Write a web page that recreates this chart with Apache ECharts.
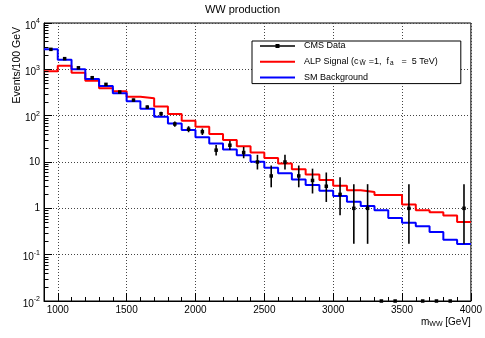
<!DOCTYPE html>
<html>
<head>
<meta charset="UTF-8">
<title>WW production</title>
<script src="https://cdn.jsdelivr.net/npm/echarts@6/dist/echarts.min.js"></script>
<style>
html, body { margin: 0; padding: 0; background: #fff; }
#chart { width: 485px; height: 338px; }
</style>
</head>
<body>
<div id="chart"></div>
<script>
// bin edges, 100 GeV wide
const binEdges = [900, 1000, 1100, 1200, 1300, 1400, 1500, 1600, 1700, 1800, 1900, 2000,
  2100, 2200, 2300, 2400, 2500, 2600, 2700, 2800, 2900, 3000, 3100, 3200, 3300, 3400,
  3500, 3600, 3700, 3800, 3900, 4000];

// events per bin
const cmsData = [2700, 1700, 1080, 660, 474, 324, 217, 153, 110, 66, 51, 45, 18, 23, 16, 10,
  5, 10, 5, 4, 3, 2, 1, 1, 0, 0, 1, 0, 0, 0, 1];
const alpSignal = [905, 1200, 845, 568, 389, 335, 256, 237, 158, 108, 78, 58, 40, 29.7, 22,
  16.1, 12.2, 9.3, 7.0, 5.4, 4.1, 3.06, 2.47, 2.24, 1.93, 1.93, 1.21, 0.91, 0.82, 0.70, 0.51];
const smBackground = [2700, 1610, 1010, 617, 435, 303, 204, 141, 95, 68, 49, 34, 25, 18.7,
  13.9, 10.1, 7.5, 5.7, 4.2, 3.2, 2.39, 1.84, 1.38, 1.12, 0.91, 0.62, 0.49, 0.41, 0.31, 0.21, 0.17];

const xTickLabels = [1000, 1500, 2000, 2500, 3000, 3500, 4000];
const yMin = 0.01;
const yMax = 10000;

const FONT = '"Liberation Sans", Arial, Helvetica, sans-serif';

// histogram outline: a point at each low edge plus the last high edge
function stepPoints(values) {
  const pts = values.map((v, i) => [binEdges[i], v]);
  pts.push([binEdges[values.length], values[values.length - 1]]);
  return pts;
}

// Poisson 68% interval (Gehrels approximation)
function poissonLow(n) {
  if (n <= 0) return 0;
  const a = 1 - 1 / (9 * n) - 1 / (3 * Math.sqrt(n));
  return n * a * a * a;
}
function poissonHigh(n) {
  return n + Math.sqrt(n + 0.75) + 1;
}

const dataPoints = cmsData.map((n, i) => [
  (binEdges[i] + binEdges[i + 1]) / 2,
  n > 0 ? n : yMin,
  poissonLow(n),
  poissonHigh(n),
  n
]);

// minor ticks of the log axis: 2..9 x 10^k
const minorY = [];
for (let e = -2; e < 4; e++) {
  for (let k = 2; k <= 9; k++) minorY.push([binEdges[0], k * Math.pow(10, e)]);
}

// legend icons; the hairline at x=0 keeps the icon box 4px tall so nothing gets stretched
const lineIcon = 'path://M0,1L35,1L35,3L0,3Z M0,0L0.01,0L0.01,4L0,4Z';
const dataIcon = 'path://M0,1.2L35,1.2L35,2.8L0,2.8Z M15.5,0L19.5,0L19.5,4L15.5,4Z';

const chart = echarts.init(document.getElementById('chart'), null, { renderer: 'canvas' });

const option = {
  animation: false,
  backgroundColor: '#fff',
  title: {
    text: 'WW production',
    left: 'center',
    top: 4,
    padding: 0,
    textStyle: { fontFamily: FONT, fontSize: 11, fontWeight: 'normal', color: '#000' }
  },
  graphic: [{
    type: 'text',
    x: 17,
    y: 27,
    rotation: Math.PI / 2,
    style: {
      text: 'Events/100 GeV',
      fontFamily: FONT,
      fontSize: 10.5,
      fill: '#000',
      align: 'right',
      verticalAlign: 'middle'
    }
  }],
  grid: {
    left: 44, right: 10, top: 23, bottom: 37,
    show: true, borderColor: '#000', borderWidth: 1, backgroundColor: 'transparent'
  },
  legend: {
    orient: 'vertical',
    left: 252,
    top: 41,
    padding: [0, 23, 1, 8],
    itemWidth: 35,
    itemHeight: 4,
    itemGap: 5.8,
    borderColor: '#000',
    borderWidth: 1,
    backgroundColor: '#fff',
    selectedMode: false,
    data: [
      { name: 'CMS Data', icon: dataIcon },
      { name: 'ALP Signal', icon: lineIcon },
      { name: 'SM Background', icon: lineIcon }
    ],
    formatter: function (name) {
      if (name === 'ALP Signal') {
        return '{t|ALP Signal (c}{s|W̃}{t|=1,  f}{s|a}{t|  =  5 TeV)}';
      }
      return name;
    },
    textStyle: {
      fontFamily: FONT, fontSize: 9, color: '#000', lineHeight: 10, padding: [0, 0, 0, 4],
      rich: {
        t: { fontFamily: FONT, fontSize: 9, color: '#000', lineHeight: 10 },
        s: {
          fontFamily: FONT, fontSize: 6.5, color: '#000', lineHeight: 4,
          verticalAlign: 'bottom', padding: [0, 3, 0, 1]
        }
      }
    }
  },
  xAxis: [{
    type: 'value',
    min: 900,
    max: 4000,
    interval: 100,
    name: '{m|m}{s|WW}{m| [GeV]}',
    nameLocation: 'end',
    nameGap: 0,
    nameTextStyle: {
      align: 'right', verticalAlign: 'top', padding: [15, 0, 0, 0],
      rich: {
        m: { fontFamily: FONT, fontSize: 10, color: '#000', lineHeight: 12 },
        s: { fontFamily: FONT, fontSize: 7, color: '#000', lineHeight: 6, verticalAlign: 'bottom' }
      }
    },
    axisLine: { show: true, onZero: false, lineStyle: { color: '#000', width: 1 } },
    axisTick: { show: true, inside: true, length: 4, lineStyle: { color: '#000' } },
    axisLabel: {
      show: true, customValues: xTickLabels, margin: 4,
      fontFamily: FONT, fontSize: 10, color: '#000',
      formatter: function (v) { return String(Math.round(v)); }
    },
    splitLine: { show: false }
  }, {
    type: 'value',
    min: 900,
    max: 4000,
    interval: 100,
    position: 'bottom',
    axisLine: { show: false },
    axisTick: { show: true, inside: true, length: 8, customValues: xTickLabels, lineStyle: { color: '#000' } },
    axisLabel: { show: false },
    splitLine: { show: true, lineStyle: { color: '#444', type: [1, 2], width: 1 } }
  }],
  yAxis: {
    type: 'log',
    logBase: 10,
    min: yMin,
    max: yMax,
    splitNumber: 6,
    axisLine: { show: true, onZero: false, lineStyle: { color: '#000', width: 1 } },
    axisTick: { show: true, inside: true, length: 8, lineStyle: { color: '#000' } },
    axisLabel: {
      margin: 4,
      fontFamily: FONT, fontSize: 10, color: '#000',
      formatter: function (v) {
        const e = Math.round(Math.log10(v));
        if (e === 0) return '1';
        if (e === 1) return '10';
        return '{b|10}{e|' + e + '}';
      },
      rich: {
        b: { fontFamily: FONT, fontSize: 10, color: '#000', lineHeight: 10, padding: [6, 0, 0, 0] },
        e: { fontFamily: FONT, fontSize: 7, color: '#000', lineHeight: 8, verticalAlign: 'top' }
      }
    },
    splitLine: { show: true, lineStyle: { color: '#444', type: [1, 2], width: 1 } }
  },
  series: [
    {
      name: 'ALP Signal',
      type: 'line',
      step: 'end',
      data: stepPoints(alpSignal),
      symbol: 'none',
      showSymbol: false,
      lineStyle: { color: '#ff0000', width: 2 },
      itemStyle: { color: '#ff0000' },
      z: 3
    },
    {
      name: 'SM Background',
      type: 'line',
      step: 'end',
      data: stepPoints(smBackground),
      symbol: 'none',
      showSymbol: false,
      lineStyle: { color: '#0000ff', width: 2 },
      itemStyle: { color: '#0000ff' },
      z: 4
    },
    {
      name: 'CMS Data',
      type: 'custom',
      data: dataPoints,
      encode: { x: 0, y: 1 },
      itemStyle: { color: '#000' },
      clip: false,
      z: 5,
      renderItem: function (params, api) {
        const x = api.value(0);
        const n = api.value(4);
        const children = [];
        if (n > 0) {
          const top = api.coord([x, api.value(3)]);
          const bot = api.coord([x, api.value(2)]);
          children.push({
            type: 'line',
            shape: { x1: top[0], y1: top[1], x2: bot[0], y2: bot[1] },
            style: { stroke: '#000', lineWidth: 1.6 }
          });
        }
        const c = api.coord([x, api.value(1)]);
        children.push({
          type: 'rect',
          shape: { x: c[0] - 1.75, y: c[1] - 1.75, width: 3.5, height: 3.5 },
          style: { fill: '#000' }
        });
        return { type: 'group', children: children };
      }
    },
    {
      name: 'minor ticks',
      type: 'custom',
      data: minorY,
      encode: { x: 0, y: 1 },
      silent: true,
      clip: false,
      z: 6,
      renderItem: function (params, api) {
        const p = api.coord([api.value(0), api.value(1)]);
        const y = Math.round(p[1]) + 0.5;
        return {
          type: 'line',
          shape: { x1: p[0], y1: y, x2: p[0] + 4.5, y2: y },
          style: { stroke: '#000', lineWidth: 1 }
        };
      }
    }
  ]
};

chart.setOption(option);
</script>
</body>
</html>
